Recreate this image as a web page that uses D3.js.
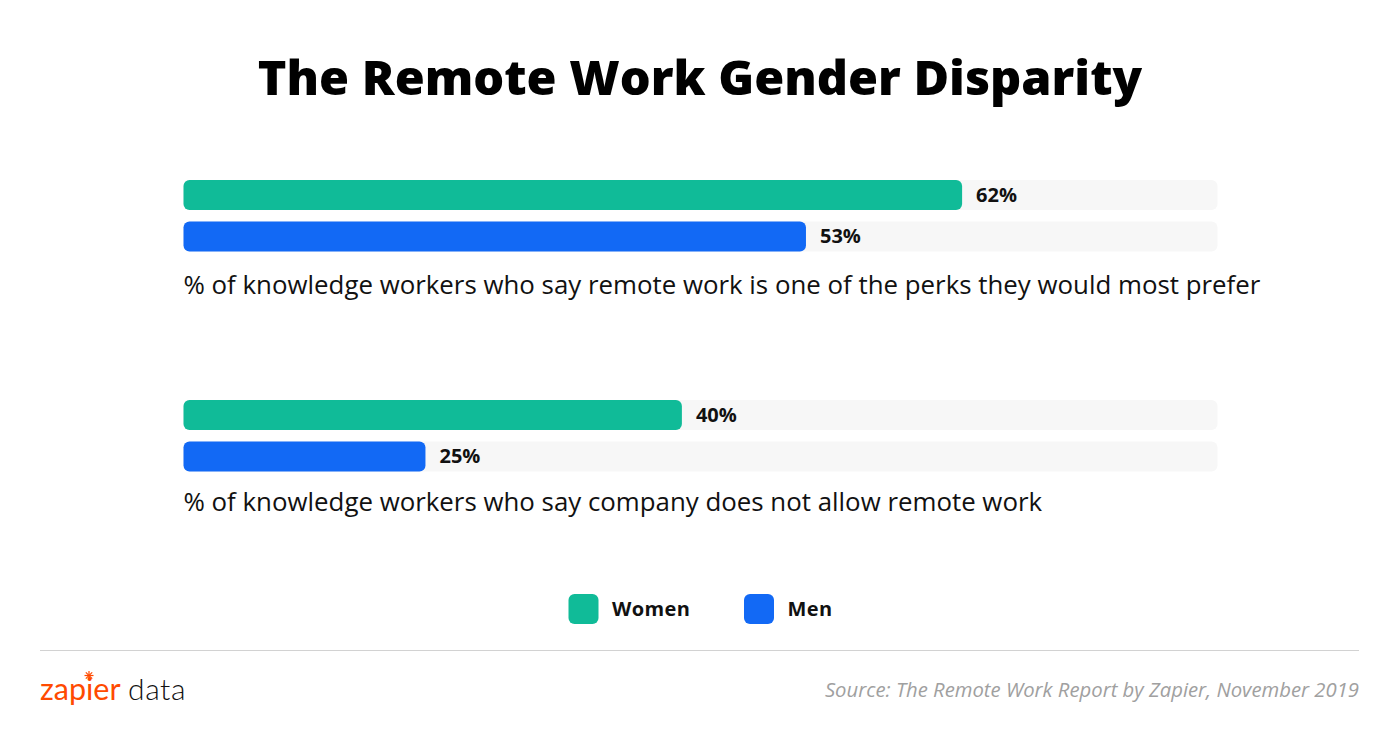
<!DOCTYPE html>
<html>
<head>
<meta charset="utf-8">
<script src="https://cdn.jsdelivr.net/npm/d3@7"></script>
<style>
  html, body { margin: 0; padding: 0; background: #fff; }
  text { font-family: "Open Sans", sans-serif; }
</style>
</head>
<body>
<script>
const chartTitle = "The Remote Work Gender Disparity";
const groupCaptions = [
  "% of knowledge workers who say remote work is one of the perks they would most prefer",
  "% of knowledge workers who say company does not allow remote work"
];
const seriesNames = ["Women", "Men"];
const seriesColors = ["#10bb98", "#1269f5"];
// printed percentages
const womenLabels = [62, 40];
const menLabels = [53, 25];
// the bars in the picture are not drawn to the printed numbers, so these are
// the lengths read off as % of the grey track
const womenLengths = [75.3, 48.2];
const menLengths = [60.2, 23.4];
const sourceNote = "Source: The Remote Work Report by Zapier, November 2019";

const width = 1400, height = 733;
const svg = d3.select("body").append("svg")
    .attr("width", width)
    .attr("height", height)
    .style("display", "block");

const x = d3.scaleLinear().domain([0, 100]).range([183.5, 1217.5]);
const groupY = d3.scalePoint().domain([0, 1]).range([180, 400]);
const barY = d3.scaleBand().domain([0, 1]).range([0, 71.5]).paddingInner(0.277);
const color = d3.scaleOrdinal().domain(seriesNames).range(seriesColors);
const captionY = [114, 111];

svg.append("text")
    .attr("x", 700).attr("y", 95)
    .attr("text-anchor", "middle")
    .attr("font-size", 48.6)
    .attr("font-weight", 800)
    .attr("fill", "#000")
    .text(chartTitle);

const groups = svg.selectAll(".group")
  .data(groupCaptions)
  .enter().append("g")
    .attr("class", "group")
    .attr("transform", (d, i) => `translate(0,${groupY(i)})`);

const rows = groups.selectAll(".row")
  .data((d, i) => [
    {name: seriesNames[0], label: womenLabels[i], len: womenLengths[i]},
    {name: seriesNames[1], label: menLabels[i], len: menLengths[i]}
  ])
  .enter().append("g")
    .attr("class", "row")
    .attr("transform", (d, i) => `translate(0,${barY(i)})`);

rows.append("rect")
    .attr("x", x(0))
    .attr("width", x(100) - x(0))
    .attr("height", barY.bandwidth())
    .attr("rx", 6)
    .attr("fill", "#f7f7f7");

rows.append("rect")
    .attr("x", x(0))
    .attr("width", d => x(d.len) - x(0))
    .attr("height", barY.bandwidth())
    .attr("rx", 6)
    .attr("fill", d => color(d.name));

rows.append("text")
    .attr("x", d => x(d.len) + 14)
    .attr("y", (d, i) => barY.bandwidth() / 2 - i * 0.7)
    .attr("dy", "0.36em")
    .attr("font-size", 20)
    .attr("font-weight", 700)
    .attr("fill", "#111")
    .text(d => d.label + "%");

groups.append("text")
    .attr("x", x(0))
    .attr("y", (d, i) => captionY[i])
    .attr("font-size", 25.85)
    .attr("fill", "#111")
    .text(d => d);

// legend
const legendX = [568.5, 744];
const legend = svg.selectAll(".legend")
  .data(seriesNames)
  .enter().append("g")
    .attr("class", "legend")
    .attr("transform", (d, i) => `translate(${legendX[i]},594)`);

legend.append("rect")
    .attr("width", 30).attr("height", 30).attr("rx", 6)
    .attr("fill", d => color(d));

legend.append("text")
    .attr("x", 43.5).attr("y", 15)
    .attr("dy", "0.36em")
    .attr("font-size", 20)
    .attr("font-weight", 700)
    .attr("letter-spacing", 0.4)
    .attr("fill", "#111")
    .text(d => d);

// footer
svg.append("line")
    .attr("x1", 40).attr("x2", 1359)
    .attr("y1", 650.5).attr("y2", 650.5)
    .attr("stroke", "#d2d2d2");

svg.append("text")
    .attr("x", 40).attr("y", 700)
    .style("font-family", "Lato, sans-serif")
    .attr("font-size", 30.5)
    .attr("fill", "#ff4a00")
    .text("zapier");

svg.append("text")
    .attr("x", 128).attr("y", 700)
    .style("font-family", "Lato, sans-serif")
    .attr("font-size", 30)
    .attr("font-weight", 300)
    .attr("letter-spacing", 0.6)
    .attr("fill", "#111")
    .text("data");

// little asterisk over the i
const star = svg.append("g")
    .attr("transform", "translate(89,675.5)")
    .attr("stroke", "#ff4a00")
    .attr("stroke-width", 1.2);
d3.range(0, 180, 45).forEach(a => {
  star.append("line")
      .attr("x1", -4.5).attr("x2", 4.5)
      .attr("transform", `rotate(${a})`);
});

svg.append("text")
    .attr("x", 1359).attr("y", 697)
    .attr("text-anchor", "end")
    .attr("font-size", 20.3)
    .attr("font-style", "italic")
    .attr("fill", "#a0a0a0")
    .text(sourceNote);
</script>
</body>
</html>
